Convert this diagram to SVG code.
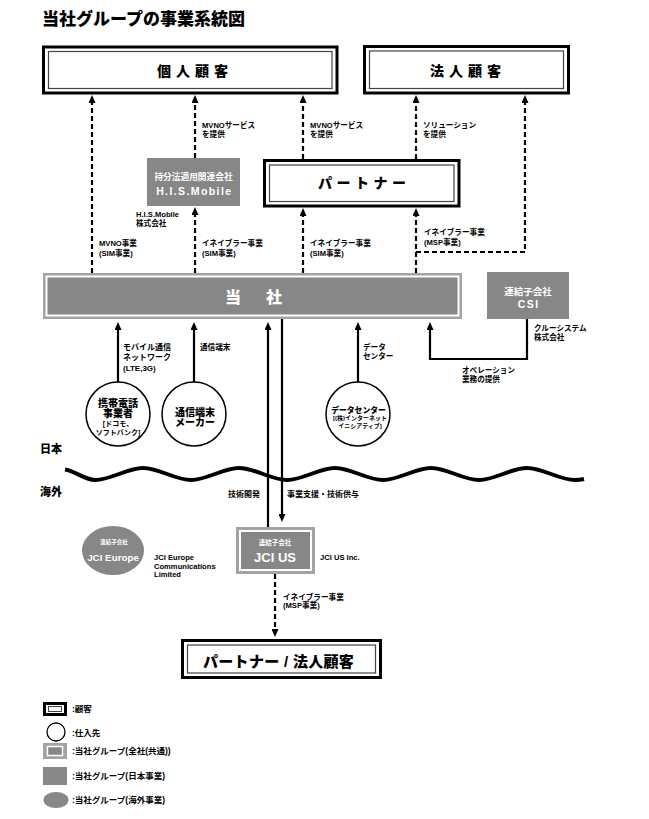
<svg xmlns="http://www.w3.org/2000/svg" width="649" height="819" viewBox="0 0 649 819">
<style>
.t{font-family:"Liberation Sans","Noto Sans CJK JP",sans-serif;font-weight:bold;fill:#000}
.h{font-weight:900}
.w{fill:#fff}
.s{font-size:7.6px}
.m{font-size:8px}
.dl{fill:none;stroke:#000;stroke-width:2.2;stroke-dasharray:5 3}
.sl{fill:none;stroke:#000;stroke-width:2.2}
.cbo{fill:#fff;stroke:#000;stroke-width:3}
.cbi{fill:none;stroke:#444;stroke-width:1.2}
.gray{fill:#878787}
.gframe{fill:#a3a3a3}
.gin{fill:#878787;stroke:#fff;stroke-width:2}
.circ{fill:#fff;stroke:#000;stroke-width:1.5}
</style>
<defs>
<marker id="ah" viewBox="0 0 8 7" markerWidth="8" markerHeight="7" refX="1" refY="3.5" orient="auto" markerUnits="userSpaceOnUse">
<path d="M0,0 L8,3.5 L0,7 z" fill="#000"/>
</marker>
</defs>

<text class="t h" x="42" y="24.5" font-size="17">当社グループの事業系統図</text>

<g id="kojin">
<rect class="cbo" x="43.5" y="47" width="293.5" height="46"/>
<rect class="cbi" x="48.5" y="51.5" width="283.5" height="37"/>
<text class="t h" x="157" y="76" font-size="14" letter-spacing="5">個人顧客</text>
</g>

<g id="hojin">
<rect class="cbo" x="364.5" y="46.5" width="204" height="46.5"/>
<rect class="cbi" x="369.5" y="51" width="194" height="37.5"/>
<text class="t h" x="430" y="76" font-size="14" letter-spacing="5">法人顧客</text>
</g>

<g id="his">
<rect class="gray" x="147" y="158" width="93" height="48"/>
<text class="t w" x="193.5" y="179.5" font-size="8.7" text-anchor="middle">持分法適用関連会社</text>
<text class="t w" x="194.3" y="195" font-size="10.5" letter-spacing="1.4" text-anchor="middle">H.I.S.Mobile</text>
</g>

<g id="partner">
<rect class="cbo" x="264.5" y="160.5" width="194.5" height="45.5"/>
<rect class="cbi" x="269.5" y="165" width="184.5" height="36.5"/>
<text class="t h" x="318" y="188" font-size="14" letter-spacing="4.5">パートナー</text>
</g>

<g id="tosha">
<rect class="gframe" x="43" y="273" width="419" height="46"/>
<rect class="gin" x="46.5" y="276.5" width="412" height="39"/>
<text class="t h w" x="225" y="302.5" font-size="16">当</text>
<text class="t h w" x="266" y="302.5" font-size="16">社</text>
</g>

<g id="csi">
<rect class="gray" x="487" y="272" width="82" height="47"/>
<text class="t w" x="528" y="294.5" font-size="9.5" text-anchor="middle">連結子会社</text>
<text class="t w" x="528.7" y="308" font-size="10.5" letter-spacing="1.4" text-anchor="middle">CSI</text>
</g>

<g id="keitai">
<circle class="circ" cx="118" cy="414" r="32"/>
<text class="t h" x="118" y="406.5" font-size="10" text-anchor="middle">携帯電話</text>
<text class="t h" x="118" y="417" font-size="10" text-anchor="middle">事業者</text>
<text class="t" x="118" y="426" font-size="7" text-anchor="middle">[ドコモ、</text>
<text class="t" x="118" y="434.5" font-size="7" text-anchor="middle">ソフトバンク]</text>
</g>

<g id="maker">
<circle class="circ" cx="194" cy="414" r="32"/>
<text class="t h" x="195" y="416" font-size="10" text-anchor="middle">通信端末</text>
<text class="t h" x="195" y="425.5" font-size="10" text-anchor="middle">メーカー</text>
</g>

<g id="datacenter">
<circle class="circ" cx="358" cy="414" r="32"/>
<text class="t h" x="358.5" y="412.5" font-size="7.8" text-anchor="middle">データセンター</text>
<text class="t" x="360" y="420" font-size="6" text-anchor="middle">[(株)インターネット</text>
<text class="t" x="360" y="428" font-size="6" text-anchor="middle">イニシアティブ]</text>
</g>

<g id="jcieurope">
<ellipse class="gray" cx="113" cy="550.5" rx="31" ry="24.5"/>
<text class="t w" x="114" y="544" font-size="5.5" text-anchor="middle">連結子会社</text>
<text class="t w" x="113" y="561" font-size="9.8" text-anchor="middle">JCI Europe</text>
</g>

<g id="jcius">
<rect class="gframe" x="236" y="527" width="79" height="47"/>
<rect class="gin" x="240" y="531" width="71" height="39"/>
<text class="t w" x="275" y="544.5" font-size="6.5" text-anchor="middle">連結子会社</text>
<text class="t w" x="275" y="561.5" font-size="13" text-anchor="middle">JCI US</text>
</g>

<g id="bottom">
<rect class="cbo" x="182.5" y="640.5" width="198" height="37"/>
<rect class="cbi" x="187.5" y="645" width="188" height="28"/>
<text class="t h" x="203" y="667" font-size="15" letter-spacing="0.3">パートナー / 法人顧客</text>
</g>

<g id="region">
<text class="t h" x="40" y="453" font-size="11">日本</text>
<text class="t h" x="40" y="496" font-size="11">海外</text>
<path d="M65,469.5 C75,471 85,480 95,480 C111,480 127,468 143,468 S175,480 191,480 S223,468 239,468 S271,480 287,480 S319,468 335,468 S367,480 383,480 S415,468 431,468 S463,480 479,480 S511,468 527,468 S559,480 575,480 C579,480 582,479.5 584,479" fill="none" stroke="#000" stroke-width="4"/>
</g>

<g id="connectors">
<path class="dl" d="M92,273 V102" marker-end="url(#ah)"/>
<path class="dl" d="M195,273 V214" marker-end="url(#ah)"/>
<path class="dl" d="M195,158 V102" marker-end="url(#ah)"/>
<path class="dl" d="M303,273 V215" marker-end="url(#ah)"/>
<path class="dl" d="M303,159 V102" marker-end="url(#ah)"/>
<path class="dl" d="M416,273 V215" marker-end="url(#ah)"/>
<path class="dl" d="M416,159 V102" marker-end="url(#ah)"/>
<path class="dl" d="M416,252 H525 V102" marker-end="url(#ah)"/>
<path class="sl" d="M118,382 V329" marker-end="url(#ah)"/>
<path class="sl" d="M194,382 V329" marker-end="url(#ah)"/>
<path class="sl" d="M358,382 V329" marker-end="url(#ah)"/>
<path class="sl" d="M268,527 V329" marker-end="url(#ah)"/>
<path class="sl" d="M282,319 V515" marker-end="url(#ah)"/>
<path class="sl" d="M527,319 V359 H430 V329" marker-end="url(#ah)"/>
<path class="dl" d="M275,574 V630" marker-end="url(#ah)"/>
</g>

<g id="labels">
<text class="t s" x="202" y="127.5">MVNOサービス</text>
<text class="t s" x="202" y="136.5">を提供</text>
<text class="t s" x="310" y="127.5">MVNOサービス</text>
<text class="t s" x="310" y="136.5">を提供</text>
<text class="t s" x="423" y="127.5">ソリューション</text>
<text class="t s" x="423" y="136.5">を提供</text>
<text class="t s" x="136" y="217">H.I.S.Mobile</text>
<text class="t s" x="136" y="225.5">株式会社</text>
<text class="t s" x="99" y="246">MVNO事業</text>
<text class="t s" x="99" y="255.5">(SIM事業)</text>
<text class="t s" x="202" y="246">イネイブラー事業</text>
<text class="t s" x="202" y="255.5">(SIM事業)</text>
<text class="t s" x="310" y="246">イネイブラー事業</text>
<text class="t s" x="310" y="255.5">(SIM事業)</text>
<text class="t s" x="424" y="235">イネイブラー事業</text>
<text class="t s" x="424" y="244.5">(MSP事業)</text>
<text class="t s" x="534" y="331">クルーシステム</text>
<text class="t s" x="534" y="340">株式会社</text>
<text class="t s" x="462" y="373">オペレーション</text>
<text class="t s" x="462" y="382">業務の提供</text>
<text class="t m" x="123" y="349.5">モバイル通信</text>
<text class="t m" x="123" y="360">ネットワーク</text>
<text class="t m" x="123" y="371">(LTE,3G)</text>
<text class="t s" x="200" y="349.5">通信端末</text>
<text class="t s" x="363" y="350">データ</text>
<text class="t s" x="363" y="359">センター</text>
<text class="t m" x="228" y="496.5">技術開発</text>
<text class="t m" x="287" y="496.5">事業支援・技術供与</text>
<text class="t s" x="154" y="560">JCI Europe</text>
<text class="t s" x="154" y="568.5">Communications</text>
<text class="t s" x="154" y="577">Limited</text>
<text class="t s" x="320" y="560">JCI US Inc.</text>
<text class="t s" x="283" y="599.5">イネイブラー事業</text>
<text class="t s" x="283" y="608">(MSP事業)</text>
</g>

<g id="legend">
<rect x="44.5" y="703.5" width="21" height="11" fill="#fff" stroke="#000" stroke-width="3"/>
<rect x="48.5" y="706.5" width="13" height="5" fill="none" stroke="#444" stroke-width="1"/>
<text class="t" x="72" y="711.5" font-size="8.5">:顧客</text>
<circle cx="56" cy="732" r="9" fill="#fff" stroke="#000" stroke-width="1.3"/>
<text class="t" x="72" y="735.5" font-size="8.5">:仕入先</text>
<rect class="gframe" x="43" y="743" width="24" height="16"/>
<rect x="47.5" y="746.5" width="15" height="9" fill="#878787" stroke="#fff" stroke-width="1.5"/>
<text class="t" x="72" y="754" font-size="8.5">:当社グループ(全社(共通))</text>
<rect class="gray" x="43" y="767" width="24" height="18"/>
<text class="t" x="72" y="779" font-size="8.5">:当社グループ(日本事業)</text>
<ellipse class="gray" cx="56" cy="800" rx="12.5" ry="8"/>
<text class="t" x="72" y="803" font-size="8.5">:当社グループ(海外事業)</text>
</g>
</svg>
